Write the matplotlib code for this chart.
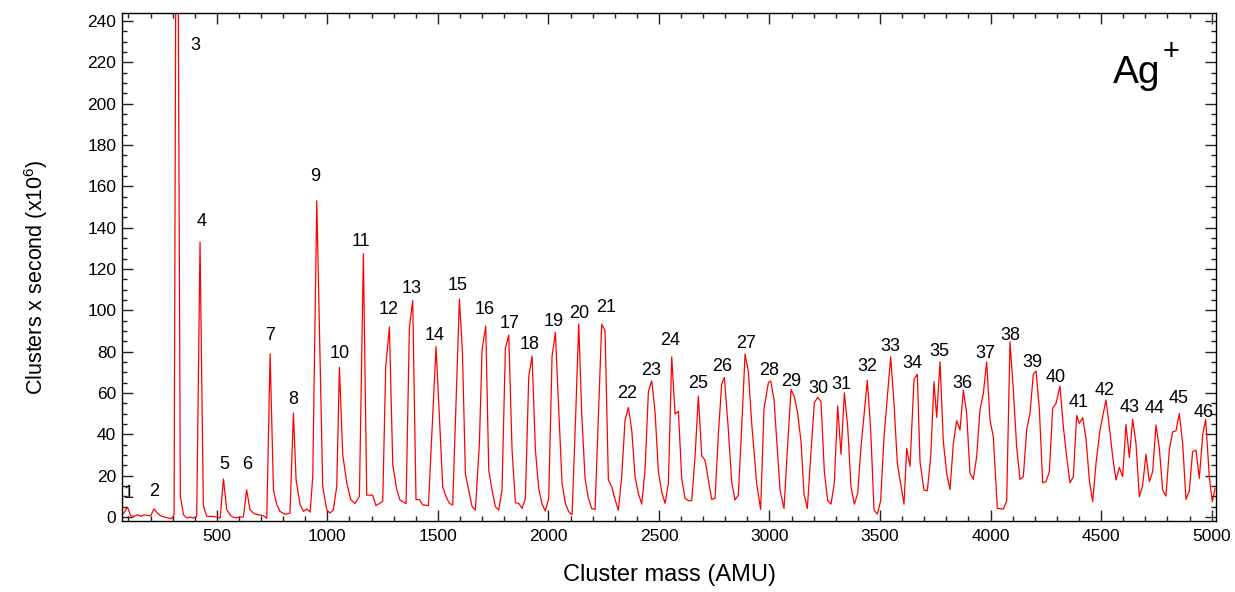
import matplotlib
matplotlib.use("Agg")
import matplotlib.pyplot as plt
from matplotlib.ticker import MultipleLocator

plt.rcParams['font.family'] = ['Liberation Sans', 'DejaVu Sans']

# ---- spectrum data (mass in AMU, counts x1e6 per second) ----
mass = [77.5, 95.6, 110.7, 125.8, 140.9, 156, 171, 186, 201, 216, 231, 246, 261.5, 281, 296, 306.7,
        318.8, 335, 349, 364, 379, 394, 409, 424, 439, 454.5, 477, 500, 515, 530, 545, 563, 583, 605,
        620, 635, 650, 668.6, 688, 711, 726, 741, 756, 771, 786, 809, 831, 846.5, 858.5, 876.6, 892,
        907, 922, 934, 952, 979, 997, 1012, 1027, 1042.5, 1054.5, 1069.6, 1087.7, 1105.8, 1125, 1145,
        1163, 1178, 1205, 1220, 1250.5, 1264, 1280.7, 1295.8, 1313.9, 1329, 1356, 1371, 1386, 1401,
        1416, 1431, 1457,
        1491.7, 1521.9, 1537, 1552, 1567, 1597.3, 1610.8, 1624.4, 1639.5, 1654.6, 1669.6, 1687.7,
        1699.8, 1716.4, 1730, 1745, 1760, 1775, 1790, 1805.3, 1820.4, 1835.5, 1850.6, 1865.6, 1880.7,
        1895.8, 1910.9, 1926, 1941, 1956, 1971, 1986, 2001.3, 2016.4, 2031.5, 2046.6, 2061.7, 2076.7,
        2091.8, 2106.9, 2122, 2137, 2150.6,
        2165.7, 2180.8, 2195.8, 2210.9, 2226, 2241, 2256.1, 2271.2, 2286.3, 2301.4, 2316.4, 2331.5,
        2346.6, 2361.7, 2376.8, 2391.8, 2406.9, 2422, 2437, 2452.2, 2467.2, 2482.3, 2497.4, 2512.5,
        2527.5, 2542.6, 2557.7, 2572.8, 2587.9, 2602.9, 2618, 2633, 2648.2, 2663.2, 2678.3, 2693.4,
        2708.4, 2723.5, 2738.6, 2753.7, 2768.8, 2783.8, 2795.9, 2814, 2829, 2844, 2859, 2874.3, 2889.4,
        2904.4, 2919.5, 2942, 2960, 2975.3, 2995, 3005.5, 3020.6, 3035.6,
        3047.6, 3065.7, 3080.8, 3097.4, 3112.4, 3127.5, 3142.6, 3156.2, 3171.2, 3186.3, 3202.9, 3218,
        3233, 3248.1, 3263.2, 3278.3, 3293.4, 3308.4, 3323.5, 3338.6, 3353.7, 3368.7, 3383.8, 3398.9,
        3414, 3442.6, 3457.7, 3472.8, 3487.9, 3502.9, 3518, 3548.2, 3563.2, 3578.3, 3593.4, 3608.5,
        3620.5, 3635.6, 3653.7, 3668.8, 3680.8, 3698.9, 3714, 3729.1, 3744.2, 3756.2, 3771.3, 3786.4,
        3801.5, 3816.5, 3831.6, 3846.7, 3861.8, 3876.8, 3891.9, 3907, 3922, 3937.1, 3952.2, 3967.3,
        3982.4, 3997.4, 4012.5, 4030.6,
        4042.7, 4057.8, 4072.9, 4087.9, 4103, 4118, 4133.2, 4148.2, 4163.3, 4178.4, 4193.5, 4205.5,
        4220.6, 4235.7, 4250.8, 4265.8, 4280.9, 4296, 4314, 4329.2, 4344.2, 4359.3, 4374.4, 4389.5,
        4401.5, 4416.6, 4431.7, 4446.8, 4461.8, 4476.9, 4495, 4522.1, 4537.2, 4552.3, 4567.4, 4582.5,
        4597.5, 4612.6, 4627.7, 4642.8, 4657.8, 4673, 4688, 4703, 4718.2, 4733.2, 4748.3, 4763.4,
        4778.5, 4793.5, 4808.6, 4823.7, 4838.8, 4853.8, 4868.9, 4884, 4899, 4914, 4929.2, 4944.3,
        4959.4, 4973, 4989.5, 5003, 5015]

counts = [1.6, 4.8, 0.6, 0.3, 1.1, 0.3, 1.0, 0.8, 0.6, 3.9, 1.9, 0.6, 0.0, -0.5, -0.8, 1.1,
          420, 10, 1.1, -0.5, 0.0, -0.5, 0.3, 133, 5.5, 0.3, 0.3, 0.0, -0.5, 18.4, 3.5, 0.6, -0.5, 0.0,
          0.0, 13.2, 3.5, 1.6, 1.1, 0.6, -0.6, 79, 13.2, 6.0, 2.7, 1.3, 1.9, 50.3, 18, 6.0, 2.7,
          3.9, 2.4, 19.7, 153, 14.8, 3.5, 1.9, 3.5, 14.8, 72.4, 30.2, 16.5, 8.4, 6.5, 10,
          127.4, 10.6, 10.6, 5.5, 7.6, 72.8, 91.9, 25.3, 13.2, 8.1, 6.5, 91.4, 104.8, 8.4,
          8.4, 5.9, 5.5,
          82.4, 14.4, 9.8, 6.6, 5.8, 105.5, 80.8, 20.8, 13, 5, 3.4, 35.6,
          80.8, 92.4, 22.7, 13, 5, 3.4, 13, 81.6, 88, 32.4, 6.9, 6.6, 4.2,
          9, 67.9, 77.9, 32.4, 13.9, 6.3, 2.9, 9, 77.6, 89.4, 51.8, 16.3, 6.6,
          2.6, 1.0, 45.3, 93.4, 50,
          18.7, 9, 4.1, 3.7, 48.5, 93.3, 90.1, 17.9, 14.6, 8.5, 3.3, 19.5,
          46.9, 53, 42.1, 19.5, 11.4, 6.2, 22.7, 60.6, 65.9, 50.9, 21.9, 12.2,
          6.6, 16.2, 77.5, 49.8, 51.2, 18.7, 9, 7.9, 7.9, 29.2, 58.5, 29.6,
          27.5, 17.9, 8.5, 9, 40.4, 64.3, 67.5, 42, 17, 8.2, 10.6, 43.7, 78.8,
          70.3, 45.3, 16.2, 3.7, 52.5, 65, 65.8, 56.6, 32.4,
          13, 4.1, 32.4, 61.7, 58.2, 50.1, 36.4, 11.1, 4.1, 29.2, 55.3, 57.9,
          55.8, 21.9, 7.9, 6.2, 16.6, 53.7, 30.3, 60.1, 43.7, 14.6, 6.2, 11.4,
          34, 66.2, 42.1, 3.3, 1.4, 7.9, 38.8, 77.5, 55, 25.9, 16.2, 6.2,
          33.2, 24.6, 66.6, 69, 26.7, 13, 12.7, 29.2, 65.4, 48.2, 75.1, 36.4,
          21.1, 13.3, 35.6, 46.6, 42.1, 61.4, 50.1, 21.1, 18.3, 29.2, 51.7, 59.8,
          75.1, 46.9, 38.8, 4.1,
          4.1, 3.8, 7.9, 84.8, 61.4, 34, 18.2, 19.5, 42.1, 50.4, 69.1, 70.6,
          52.5, 16.6, 17.1, 21.9, 52.5, 55, 63.3, 43.7, 29.2, 16.6, 19.5, 49.1,
          45.3, 48, 38, 17.9, 7.4, 25.9, 42.1, 56.6, 43.7, 29.2, 17.9, 24,
          19.5, 44.8, 28.8, 47.2, 35.6, 9.8, 15.4, 30.4, 17.1, 21.9, 44.5, 33.2,
          13, 10.1, 32.7, 41.2, 41.7, 50.1, 35.6, 8.5, 12.7, 31.6, 32.4, 18.7,
          39.6, 47.2, 19.5, 7.4, 13.8]

# ---- peak labels (cluster size n) ----
peak_n = list(range(1, 47))
label_mass = [103, 216, 402, 433, 533, 637, 741, 845, 944, 1057, 1152, 1279, 1383, 1483, 1591,
              1713, 1822, 1917, 2025, 2139, 2261, 2356, 2464, 2550, 2677, 2785, 2894, 2998, 3097,
              3220, 3324, 3441, 3545, 3645, 3767, 3871, 3975, 4088, 4188, 4296, 4400, 4518, 4631,
              4744, 4852, 4965]
label_y = [11.6, 12.1, 228.3, 142.9, 25.6, 25.6, 87.6, 57.0, 164.9, 79.3, 133.1, 100.6, 110.8,
           88.0, 111.8, 100.6, 93.4, 83.6, 94.8, 98.7, 101.6, 59.6, 71.1, 85.2, 64.8, 73.0, 84.1,
           71.1, 65.8, 62.4, 64.3, 72.6, 82.3, 74.1, 80.0, 64.8, 79.3, 87.6, 74.6, 67.4, 55.2,
           61.0, 53.2, 52.7, 57.5, 50.8]

fig = plt.figure(figsize=(12.35, 5.92), dpi=100)
ax = fig.add_axes([0.0986, 0.1204, 0.8857, 0.8581])

ax.plot(mass, counts, color='#ff0000', linewidth=0.9)

for n, xm, ym in zip(peak_n, label_mass, label_y):
    ax.text(xm, ym, str(n), ha='center', va='center', fontsize=13, color='black')

ax.text(4554, 210, 'Ag', ha='left', va='baseline', fontsize=28)
ax.text(4818, 225, '+', ha='center', va='center', fontsize=21)

ax.set_xlim(70, 5018)
ax.set_ylim(-1.8, 244)
ax.xaxis.set_major_locator(MultipleLocator(500))
ax.xaxis.set_minor_locator(MultipleLocator(100))
ax.yaxis.set_major_locator(MultipleLocator(20))
ax.yaxis.set_minor_locator(MultipleLocator(5))
ax.tick_params(which='both', direction='in', top=True, right=True, width=1.0, color='#222222')
ax.tick_params(which='major', length=7.7, labelsize=12.5)
ax.tick_params(axis='x', which='major', pad=6)
ax.tick_params(axis='y', which='major', pad=4)
ax.tick_params(which='minor', length=3.6)
for s in ax.spines.values():
    s.set_linewidth(1.0)

ax.set_xlabel('Cluster mass (AMU)', fontsize=17)
ax.xaxis.set_label_coords(0.5003, -0.085)
ax.set_ylabel(r'Clusters x second (x10$\mathregular{^{6}}$)', fontsize=15.5)
ax.yaxis.set_label_coords(-0.066, 0.48)

fig.savefig('out.png', dpi=100)
